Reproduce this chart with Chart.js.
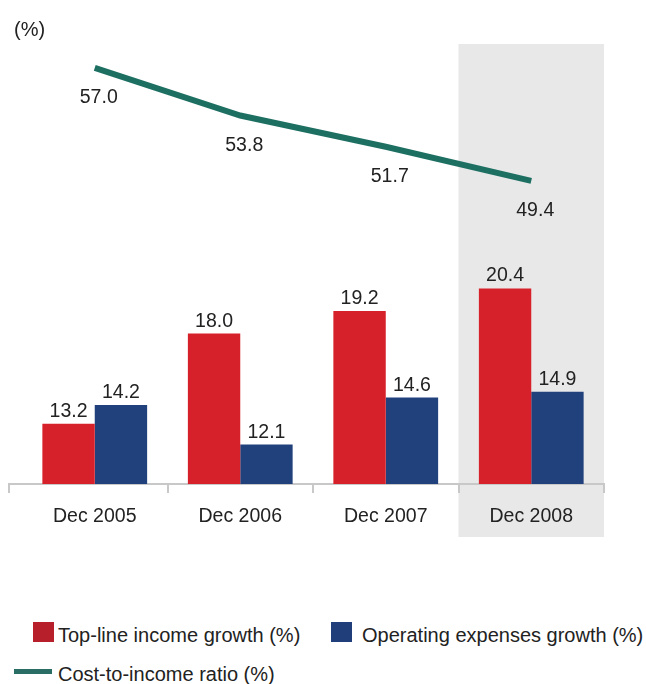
<!DOCTYPE html>
<html>
<head>
<meta charset="utf-8">
<script src="https://cdn.jsdelivr.net/npm/chart.js@4.4.1/dist/chart.umd.min.js"></script>
<style>
  html, body { margin: 0; padding: 0; background: #fff; }
  body { width: 646px; height: 684px; position: relative; overflow: hidden;
         font-family: 'Liberation Sans', Arial, Helvetica, sans-serif; color: #222; }
  #wrap { position: absolute; left: 0; top: 0; width: 646px; height: 544px; }
  .txt { position: absolute; font-size: 20px; line-height: 20px; white-space: nowrap; }
  .sw { position: absolute; }
</style>
</head>
<body>
<div id="wrap"><canvas id="chart" width="646" height="544"></canvas></div>
<div class="txt" style="left:14px; top:19px;">(%)</div>

<div class="sw" style="left:33px; top:622px; width:21px; height:20px; background:#b7202a;"></div>
<div class="txt" style="left:58px; top:625px;">Top-line income growth (%)</div>
<div class="sw" style="left:331px; top:622px; width:21px; height:20px; background:#203f7a;"></div>
<div class="txt" style="left:362px; top:625px;">Operating expenses growth (%)</div>
<div class="sw" style="left:14px; top:669px; width:38px; height:5px; background:#2a6d65;"></div>
<div class="txt" style="left:58px; top:664px;">Cost-to-income ratio (%)</div>

<script>
// valori
const categories = ['Dec 2005', 'Dec 2006', 'Dec 2007', 'Dec 2008'];
const incomeGrowth = [13.2, 18.0, 19.2, 20.4];
const opexGrowth = [14.2, 12.1, 14.6, 14.9];
const costIncome = [57.0, 53.8, 51.7, 49.4];

const RED = '#d7212a';
const BLUE = '#20417c';
const GREEN = '#1d6f62';
const FONT = "'Liberation Sans', Arial, Helvetica, sans-serif";

// fascia grigia dietro l'ultimo periodo + prolungamento dell'asse
const bgPlugin = {
    id: 'bgPlugin',
    beforeDraw(chart) {
        const { ctx, chartArea, scales } = chart;
        const x = scales.x;
        const half = (x.getPixelForValue(1) - x.getPixelForValue(0)) / 2;
        const left = x.getPixelForValue(3) - half;
        ctx.save();
        ctx.fillStyle = '#e8e8e8';
        ctx.fillRect(left, chartArea.top, chartArea.right - left, chartArea.bottom + 53 - chartArea.top);
        ctx.restore();
    },
    afterDraw(chart) {
        const { ctx, chartArea } = chart;
        ctx.save();
        ctx.strokeStyle = '#c8c8c8';
        ctx.lineWidth = 2;
        ctx.beginPath();
        ctx.moveTo(8, chartArea.bottom);
        ctx.lineTo(chartArea.left, chartArea.bottom);
        ctx.moveTo(9, chartArea.bottom);
        ctx.lineTo(9, chartArea.bottom + 9);
        ctx.stroke();
        ctx.restore();
    }
};

// etichette dei valori
const labelPlugin = {
    id: 'labelPlugin',
    afterDatasetsDraw(chart) {
        const ctx = chart.ctx;
        ctx.save();
        ctx.font = '19.5px ' + FONT;
        ctx.fillStyle = '#222';
        ctx.textAlign = 'center';
        ctx.textBaseline = 'alphabetic';
        chart.data.datasets.forEach((ds, i) => {
            const meta = chart.getDatasetMeta(i);
            meta.data.forEach((el, j) => {
                const txt = ds.data[j].toFixed(1);
                if (ds.type === 'line') {
                    ctx.fillText(txt, el.x + 4, el.y + 35);
                } else {
                    ctx.fillText(txt, el.x, el.y - 7);
                }
            });
        });
        ctx.restore();
    }
};

new Chart(document.getElementById('chart'), {
    type: 'bar',
    data: {
        labels: categories,
        datasets: [
            {
                type: 'line',
                label: 'Cost-to-income ratio (%)',
                data: costIncome,
                yAxisID: 'yLine',
                borderColor: GREEN,
                borderWidth: 6,
                pointRadius: 0,
                tension: 0,
                fill: false,
                borderCapStyle: 'butt'
            },
            {
                label: 'Top-line income growth (%)',
                data: incomeGrowth,
                yAxisID: 'yBar',
                backgroundColor: RED,
                categoryPercentage: 0.72,
                barPercentage: 1.0
            },
            {
                label: 'Operating expenses growth (%)',
                data: opexGrowth,
                yAxisID: 'yBar',
                backgroundColor: BLUE,
                categoryPercentage: 0.72,
                barPercentage: 1.0
            }
        ]
    },
    options: {
        responsive: false,
        animation: false,
        layout: { padding: { top: 44, left: 22, right: 42, bottom: 10 } },
        plugins: { legend: { display: false }, tooltip: { enabled: false } },
        scales: {
            x: {
                offset: true,
                grid: {
                    offset: true,
                    drawOnChartArea: false,
                    tickLength: 9,
                    lineWidth: 2,
                    tickColor: c => c.index === 0 ? 'rgba(0,0,0,0)' : '#c8c8c8'
                },
                border: { color: '#c8c8c8', width: 2 },
                ticks: { font: { size: 19.5, family: FONT }, color: '#222', padding: 12 },
                afterFit: s => { s.height = 50; }
            },
            yBar: { display: false, min: 10, max: 33.4 },
            yLine: { display: false, min: 29.02, max: 58.61 }
        }
    },
    plugins: [bgPlugin, labelPlugin]
});
</script>
</body>
</html>
